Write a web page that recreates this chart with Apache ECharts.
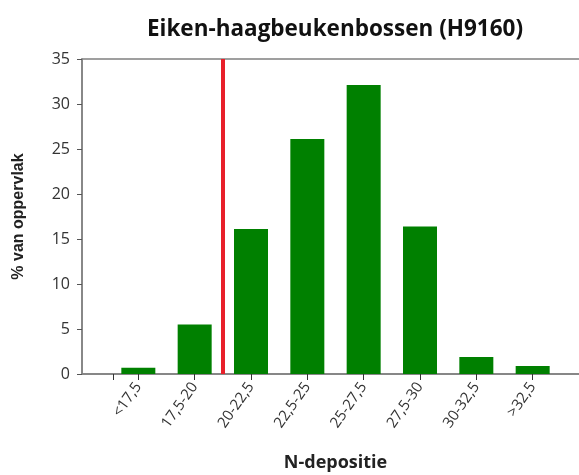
<!DOCTYPE html>
<html>
<head>
<meta charset="utf-8">
<script src="https://cdn.jsdelivr.net/npm/echarts@6/dist/echarts.min.js"></script>
<style>
  html, body { margin: 0; padding: 0; background: #fff; }
  #chart { width: 579px; height: 475px; }
</style>
</head>
<body>
<div id="chart"></div>
<script>
// Deposition classes (kg N/ha/jr) and share of habitat area per class
const categories = ['<17,5', '17,5-20', '20-22,5', '22,5-25', '25-27,5', '27,5-30', '30-32,5', '>32,5'];
const shares = [0.7, 5.5, 16.1, 26.1, 32.1, 16.4, 1.9, 0.9];
const yTicks = [0, 5, 10, 15, 20, 25, 30, 35];
// Critical deposition value sits on the 20 kg boundary, between class 2 and 3
const criticalPos = 2.5;

const positions = categories.map((_, i) => i + 1);
const barData = shares.map((v, i) => [positions[i], v]);

const chart = echarts.init(document.getElementById('chart'));
chart.setOption({
  animation: false,
  title: {
    text: 'Eiken-haagbeukenbossen (H9160)',
    left: 330,
    textAlign: 'center',
    top: 13,
    textStyle: { fontFamily: 'Open Sans', fontWeight: 'bold', fontSize: 22.5, color: '#111' }
  },
  grid: {
    left: 82, top: 59, width: 507, height: 315,
    outerBoundsMode: 'none',
    containLabel: false,
    show: true, borderColor: '#808080', borderWidth: 1.5, backgroundColor: '#fff'
  },
  xAxis: {
    type: 'value',
    min: 0, max: 9,
    name: 'N-depositie',
    nameLocation: 'middle',
    nameGap: 80,
    nameTextStyle: { fontFamily: 'Open Sans', fontWeight: 'bold', fontSize: 18, color: '#222' },
    splitLine: { show: false },
    axisLine: { show: true, lineStyle: { color: '#808080', width: 1.5 } },
    axisTick: {
      show: true, length: 6, customValues: [0.55].concat(positions),
      lineStyle: { color: '#333', width: 1 }
    },
    axisLabel: {
      customValues: positions,
      rotate: 55, margin: 10,
      fontFamily: 'Open Sans', fontSize: 15, color: '#333',
      formatter: v => categories[Math.round(v) - 1] || ''
    }
  },
  yAxis: {
    type: 'value',
    min: 0, max: 35, interval: 5,
    name: '% van oppervlak',
    nameLocation: 'middle',
    nameGap: 55,
    nameTextStyle: { fontFamily: 'Liberation Sans', fontWeight: 'bold', fontSize: 16, color: '#222' },
    splitLine: { show: false },
    axisLine: { show: true, lineStyle: { color: '#808080', width: 1.5 } },
    axisTick: { show: true, length: 5, lineStyle: { color: '#555' } },
    axisLabel: {
      customValues: yTicks,
      margin: 12,
      fontFamily: 'Open Sans', fontSize: 16, color: '#333'
    }
  },
  series: [{
    type: 'bar',
    data: barData,
    barWidth: 34,
    itemStyle: { color: '#008000' },
    markLine: {
      silent: true,
      symbol: 'none',
      label: { show: false },
      lineStyle: { color: '#e8202a', width: 4, type: 'solid' },
      data: [{ xAxis: criticalPos }]
    }
  }]
});
</script>
</body>
</html>
